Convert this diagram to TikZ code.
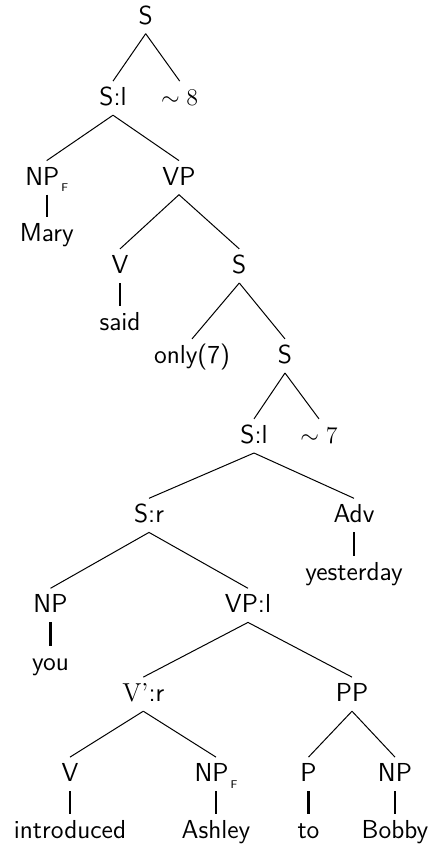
\documentclass[tikz,border=0pt]{standalone}
\usepackage{fontspec}
\newcommand{\fsub}{\raisebox{-3.3pt}{\hspace{1pt}\fontsize{5.6}{6}\selectfont F}}
\tikzset{
  lbl/.style={anchor=base, inner sep=0pt, font=\sffamily\fontsize{13}{15}\selectfont, text height=12pt, text depth=4.65pt},
  br/.style={line width=0.5pt},
  unary/.style={line width=1.2pt},
}
\begin{document}
\begin{tikzpicture}[x=0.5pt,y=-0.5pt]
\useasboundingbox (0,0) rectangle (431,847);
% nodes
\node[lbl] (S)    at (145.7,24)    {S};
\node[lbl] (Sl1)  at (113,105.5)   {S:l};
\node[lbl] (t8)   at (179.7,105.5) {$\sim 8$};
\node[lbl] (NPF1) at (46.7,185)    {NP\fsub};
\node[lbl] (VP1)  at (179,185)     {VP};
\node[lbl] (Mary) at (46.7,241)    {Mary};
\node[lbl] (V1)   at (120,273.3)   {V};
\node[lbl] (S2)   at (239.3,273.3) {S};
\node[lbl] (said) at (120,330)     {said};
\node[lbl] (only) at (192,363.3)   {only(7)};
\node[lbl] (S3)   at (285,363.3)   {S};
\node[lbl] (Sl2)  at (254,443.3)   {S:l};
\node[lbl] (t7)   at (319,443.3)   {$\sim 7$};
\node[lbl] (Sr)   at (149,522.7)   {S:r};
\node[lbl] (Adv)  at (354,522.7)   {Adv};
\node[lbl] (yest) at (354,580)     {yesterday};
\node[lbl] (NP2)  at (50.5,612.7)  {NP};
\node[lbl] (VPl)  at (248,612.7)   {VP:l};
\node[lbl] (you)  at (50.5,670)    {you};
\node[lbl] (Vr)   at (143.3,701.5) {{\rmfamily V’}:r};
\node[lbl] (PP)   at (352,701.5)   {PP};
\node[lbl] (V3)   at (70,781.5)    {V};
\node[lbl] (NPF2) at (216,781.5)   {NP\fsub};
\node[lbl] (P)    at (308.5,781.5) {P};
\node[lbl] (NP3)  at (395,781.5)   {NP};
\node[lbl] (intr) at (70,838.5)    {introduced};
\node[lbl] (ash)  at (216,838.5)   {Ashley};
\node[lbl] (to)   at (308.5,838.5) {to};
\node[lbl] (bob)  at (395,838.5)   {Bobby};
% branches
\draw[br] (S.south) -- (Sl1.north);
\draw[br] (S.south) -- (t8.north);
\draw[br] (Sl1.south) -- (NPF1.north);
\draw[br] (Sl1.south) -- (VP1.north);
\draw[br] (VP1.south) -- (V1.north);
\draw[br] (VP1.south) -- (S2.north);
\draw[br] (S2.south) -- (only.north);
\draw[br] (S2.south) -- (S3.north);
\draw[br] (S3.south) -- (Sl2.north);
\draw[br] (S3.south) -- (t7.north);
\draw[br] (Sl2.south) -- (Sr.north);
\draw[br] (Sl2.south) -- (Adv.north);
\draw[br] (Sr.south) -- (NP2.north);
\draw[br] (Sr.south) -- (VPl.north);
\draw[br] (VPl.south) -- (Vr.north);
\draw[br] (VPl.south) -- (PP.north);
\draw[br] (Vr.south) -- (V3.north);
\draw[br] (Vr.south) -- (NPF2.north);
\draw[br] (PP.south) -- (P.north);
\draw[br] (PP.south) -- (NP3.north);
% unary
\draw[unary] (NPF1.south) -- (Mary.north);
\draw[unary] (V1.south) -- (said.north);
\draw[unary] (Adv.south) -- (yest.north);
\draw[unary] (NP2.south) -- (you.north);
\draw[unary] (V3.south) -- (intr.north);
\draw[unary] (NPF2.south) -- (ash.north);
\draw[unary] (P.south) -- (to.north);
\draw[unary] (NP3.south) -- (bob.north);
\end{tikzpicture}
\end{document}
